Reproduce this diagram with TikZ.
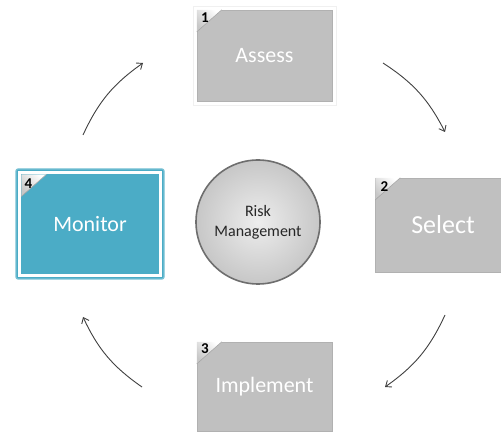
\documentclass[tikz,border=0pt]{standalone}
\usepackage{fontspec}
\setmainfont{Carlito}
\usetikzlibrary{arrows.meta,calc}
\definecolor{boxgrey}{HTML}{C0C0C0}
\definecolor{aqua}{HTML}{4BACC6}
\definecolor{ringgrey}{HTML}{6E6E6E}
\definecolor{arrowgrey}{HTML}{404040}
\definecolor{inktext}{HTML}{262626}

\tikzset{
  stage/.style={rectangle, fill=boxgrey, draw=boxgrey!92!black, line width=0.4pt,
    minimum width=135pt, minimum height=91pt, inner sep=0pt, text=white,
    font=\fontsize{22}{26}\selectfont},
  halo/.style={draw=black!6, line width=0.8pt},
  stepnum/.style={inner sep=0pt, text=black, font=\bfseries\fontsize{15}{15}\selectfont},
  fold/.style={left color=black!22, right color=white, shading angle=135},
  foldedge/.style={draw=black!35, line width=0.6pt},
  cycle arrow/.style={draw=arrowgrey, line width=0.9pt,
    -{Straight Barb[length=5pt,width=8pt,line width=0.9pt]}}
}

\newcommand{\cornerfold}[1]{%
  \shade[fold] (#1) -- ++(25,0) -- ++(-25,22) -- cycle;
  \draw[foldedge] ($(#1)+(25,0)$) -- ++(-25,22);
}

\begin{document}
\begin{tikzpicture}[x=1pt,y=-1pt]
\useasboundingbox (0,0) rectangle (501,435);
\clip (0,0) rectangle (501,435);

% the four stages
\draw[halo] (193,6) rectangle (336,105);
\node[stage] (assess) at (264.5,55.5) {Assess};
\node[stage, minimum height=94pt, font=\fontsize{26}{30}\selectfont] (select) at (443,225) {Select};
\node[stage, minimum height=89pt] (implement) at (264.5,386.5) {Implement};
\node[rectangle, fill=aqua, draw=aqua!75, line width=1.2pt, rounded corners=2pt,
  minimum width=148pt, minimum height=110pt, inner sep=0pt, text=white,
  font=\fontsize{22}{26}\selectfont] (monitor) at (90,224) {Monitor};
\draw[white, line width=3pt] ($(monitor.north west)+(4.5,4.5)$) rectangle ($(monitor.south east)+(-4.5,-4.5)$);

% folded corners with step numbers
\cornerfold{assess.north west}
\cornerfold{select.north west}
\cornerfold{implement.north west}
\coordinate (mcorner) at ($(monitor.north west)+(6,6)$);
\cornerfold{mcorner}

\node[stepnum] (n1) at ($(assess.north west)+(8,8)$) {1};
\node[stepnum] (n2) at ($(select.north west)+(9,9)$) {2};
\node[stepnum] (n3) at ($(implement.north west)+(8,7)$) {3};
\node[stepnum] (n4) at ($(mcorner)+(7,9)$) {4};

% centre disc
\node[circle, minimum size=124pt, inner sep=0pt, draw=ringgrey, line width=1.6pt,
  inner color=black!7, outer color=black!22, align=center, text=inktext,
  font=\fontsize{16}{20}\selectfont] (core) at (258,222) {Risk\\Management};

% cycle arrows
\coordinate (a1s) at (383,63);  \coordinate (a1e) at (445,132);
\coordinate (a2s) at (445,315); \coordinate (a2e) at (385,387);
\coordinate (a3s) at (142,387); \coordinate (a3e) at (83,317);
\coordinate (a4s) at (83,135);  \coordinate (a4e) at (143,63);
\draw[cycle arrow] (a1s) to[bend left=15] (a1e);
\draw[cycle arrow] (a2s) to[bend left=15] (a2e);
\draw[cycle arrow] (a3s) to[bend left=15] (a3e);
\draw[cycle arrow] (a4s) to[bend left=15] (a4e);
\end{tikzpicture}
\end{document}
